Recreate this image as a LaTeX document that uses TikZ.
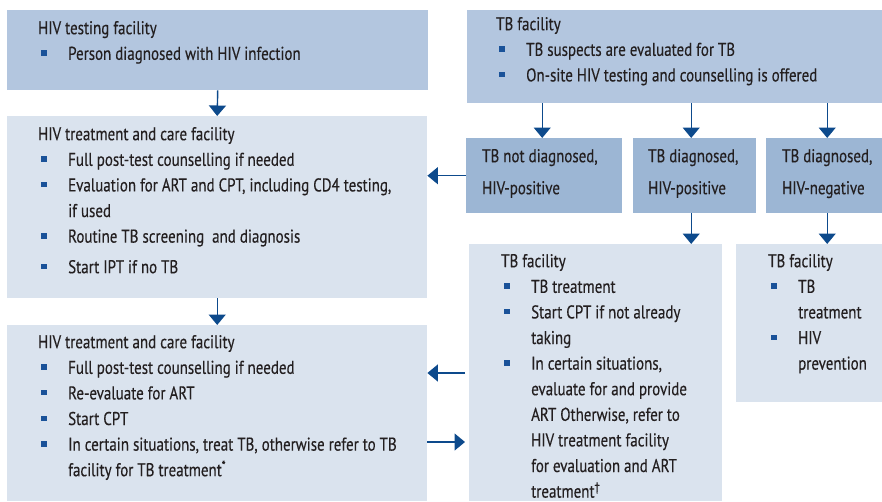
\documentclass[tikz,border=0pt]{standalone}
\usepackage{fontspec}
\setmainfont{PT Sans}[FakeStretch=0.81,FakeBold=0.3]
\usetikzlibrary{arrows.meta}
\definecolor{boxmid}{HTML}{B3C6DF}
\definecolor{boxdark}{HTML}{9CB6D4}
\definecolor{boxlight}{HTML}{DAE3EE}
\definecolor{arrowblue}{HTML}{0D4A8C}
\definecolor{bulletblue}{HTML}{1A5299}
\definecolor{ink}{HTML}{231F20}
% bullet item and continuation indent
\newcommand{\bul}{\makebox[30pt][l]{\hspace{3pt}\textcolor{bulletblue}{\rule[4pt]{5.5pt}{5.5pt}}}}
\newcommand{\cont}{\hspace*{30pt}}
\newcommand{\firstline}{\rule{0pt}{15pt}}
\begin{document}
\begin{tikzpicture}[x=1pt,y=-1pt,
  panel/.style={inner sep=0pt, anchor=north west},
  txt/.style={inner sep=0pt, anchor=north west, align=left, text=ink,
    font=\fontsize{18.5}{25.6}\selectfont},
  arr/.style={draw=arrowblue, line width=1.4pt, -{Triangle[width=17pt,length=10.5pt]}}]
\useasboundingbox (0,0) rectangle (882,501);

% panels
\node[panel, fill=boxmid, minimum width=421pt, minimum height=80pt] (test) at (7,10) {};
\node[panel, fill=boxmid, minimum width=415pt, minimum height=93pt] (tbtop) at (467,10) {};
\node[panel, fill=boxlight, minimum width=420pt, minimum height=182pt] (care1) at (7,116) {};
\node[panel, fill=boxdark, minimum width=156pt, minimum height=75pt] (tbn) at (466,138) {};
\node[panel, fill=boxdark, minimum width=123pt, minimum height=75pt] (tbp) at (633,138) {};
\node[panel, fill=boxdark, minimum width=116pt, minimum height=75pt] (tbneg) at (766,138) {};
\node[panel, fill=boxlight, minimum width=420pt, minimum height=176pt] (care2) at (7,325) {};
\node[panel, fill=boxlight, minimum width=253pt, minimum height=257pt] (tbmid) at (469,244) {};
\node[panel, fill=boxlight, minimum width=146pt, minimum height=158pt] (tbright) at (736,244) {};

% texts
\node[txt] (test-t) at (38,19) {\firstline HIV testing facility\\
  \bul Person diagnosed with HIV infection};
\node[txt] (tbtop-t) at (496,15) {\firstline TB facility\\
  \bul TB suspects are evaluated for TB\\
  \bul On-site HIV testing and counselling is offered};
\node[txt] (care1-t) at (38,125) {\firstline HIV treatment and care facility\\
  \bul Full post-test counselling if needed\\
  \bul Evaluation for ART and CPT, including CD4 testing,\\
  \cont if used\\
  \bul Routine TB screening\ \ and diagnosis\\[5pt]
  \bul Start IPT if no TB};
\node[txt] (tbn-t) at (482,147) {\firstline TB not diagnosed,\\[6.4pt] HIV-positive};
\node[txt] (tbp-t) at (648,147) {\firstline TB diagnosed,\\[6.4pt] HIV-positive};
\node[txt] (tbneg-t) at (782,147) {\firstline TB diagnosed,\\[6.4pt] HIV-negative};
\node[txt] (care2-t) at (38,333) {\firstline HIV treatment and care facility\\
  \bul Full post-test counselling if needed\\
  \bul Re-evaluate for ART\\
  \bul Start CPT\\
  \bul In certain situations, treat TB, otherwise refer to TB\\
  \cont facility for TB treatment\textsuperscript{*}};
\node[txt] (tbmid-t) at (501,252) {\firstline TB facility\\
  \bul TB treatment\\
  \bul Start CPT if not already\\
  \cont taking\\
  \bul In certain situations,\\
  \cont evaluate for and provide\\
  \cont ART Otherwise, refer to\\
  \cont HIV treatment facility\\
  \cont for evaluation and ART\\
  \cont treatment\textsuperscript{\dag}};
\node[txt] (tbright-t) at (768,252) {\firstline TB facility\\
  \bul TB\\
  \cont treatment\\
  \bul HIV\\
  \cont prevention};

% connectors
\draw[arr] (test.south) -- (care1.north);
\draw[arr] (care1.south) -- (care2.north);
\draw[arr] ([xshift=-2pt]tbn.north |- tbtop.south) -- ([xshift=-2pt]tbn.north);
\draw[arr] ([xshift=-3.5pt]tbp.north |- tbtop.south) -- ([xshift=-3.5pt]tbp.north);
\draw[arr] ([xshift=3pt]tbneg.north |- tbtop.south) -- ([xshift=3pt]tbneg.north);
\draw[arr] (tbn.west) -- (tbn.west -| care1.east);
\draw[arr] ([xshift=-3.5pt]tbp.south) -- ([xshift=-3.5pt]tbp.south |- tbmid.north);
\draw[arr] ([xshift=3pt]tbneg.south) -- ([xshift=3pt]tbneg.south |- tbright.north);
\draw[arr] ([xshift=-4pt]tbmid.west |- 0,373) -- (care2.east |- 0,373);
\draw[arr] (care2.east |- 0,442) -- ([xshift=-4pt]tbmid.west |- 0,442);
\end{tikzpicture}
\end{document}
